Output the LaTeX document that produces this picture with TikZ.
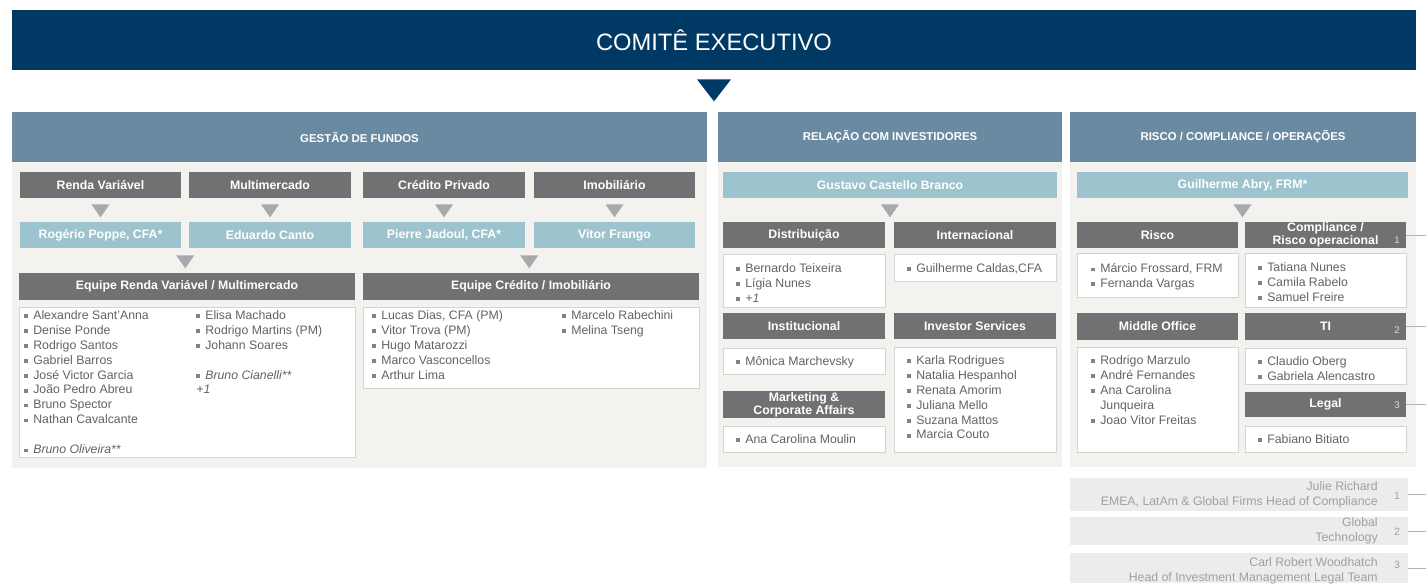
\documentclass[tikz,border=0pt]{standalone}
\usepackage{fontspec}
\setmainfont{Liberation Sans}
\usetikzlibrary{calc}

\definecolor{navy}{RGB}{0,57,99}
\definecolor{steel}{RGB}{106,138,162}
\definecolor{panel}{RGB}{243,242,238}
\definecolor{headgrey}{RGB}{112,113,115}
\definecolor{leadblue}{RGB}{157,195,206}
\definecolor{trigrey}{RGB}{167,169,172}
\definecolor{namegrey}{RGB}{98,99,102}
\definecolor{framegrey}{RGB}{212,212,212}
\definecolor{footgrey}{RGB}{236,236,234}
\definecolor{foottext}{RGB}{160,160,160}

% square bullet and the matching indent
\newcommand\bul{{\color{namegrey!80}\rule[0.8pt]{2pt}{2pt}}\hspace{3.1pt}}
\newcommand\nob{\hspace{5.1pt}}

\begin{document}
\begin{tikzpicture}[x=0.02cm,y=-0.02cm]
    \tikzset{
        sect/.style={fill=steel, text=white, font=\bfseries\fontsize{6.5}{8}\selectfont, inner sep=0pt, minimum height=1cm},
        head/.style={fill=headgrey, text=white, font=\bfseries\fontsize{7}{7.6}\selectfont, inner sep=0pt, minimum width=3.24cm, minimum height=0.52cm, align=center},
        lead/.style={fill=leadblue, text=white, font=\bfseries\fontsize{7}{8}\selectfont, inner sep=0pt, minimum width=3.24cm, minimum height=0.52cm},
        listbox/.style={draw=framegrey, fill=white, line width=0.5pt, inner sep=0pt, minimum width=3.24cm},
        namelist/.style={anchor=north west, inner sep=0pt, align=left, text=namegrey, font=\fontsize{7}{8.5}\selectfont},
        tri/.style={fill=trigrey},
        foot/.style={fill=footgrey, inner sep=0pt, minimum width=6.76cm},
        foottxt/.style={anchor=east, inner sep=0pt, align=right, text=foottext, font=\fontsize{7}{8.5}\selectfont},
        hnum/.style={inner sep=0pt, text=white!75!headgrey, font=\fontsize{5.5}{6}\selectfont},
        fnum/.style={inner sep=0pt, text=foottext, font=\fontsize{6}{7}\selectfont},
        link/.style={draw=framegrey!85!black, line width=0.5pt}
    }
    \useasboundingbox (0,0) rectangle (1426,583);
    \coordinate (rim) at (1426,0);

    \node[fill=navy, text=white, minimum width=28.08cm, minimum height=1.2cm, inner sep=0pt, font=\fontsize{13.5}{16}\selectfont] (ce) at (714,40) {COMITÊ EXECUTIVO};
    \fill[navy] ($(ce.south)+(-17,9)$) -- ++(34,0) -- ++(-17,22) -- cycle;

    \node[sect, minimum width=13.9cm] (gf) at (359.5,137) {GESTÃO DE FUNDOS};
    \node[sect, minimum width=6.88cm] (ri) at (890,137) {RELAÇÃO COM INVESTIDORES};
    \node[sect, minimum width=6.92cm] (rco) at (1243,137) {RISCO / COMPLIANCE / OPERAÇÕES};
    \fill[panel] (gf.south west) rectangle ++(695,306);
    \fill[panel] (ri.south west) rectangle ++(344,305);
    \fill[panel] (rco.south west) rectangle ++(346,305);

    % gestao de fundos
    \node[head] (rv) at (100.5,185) {Renda Variável};
    \node[head] (mm) at (270,185) {Multimercado};
    \node[head] (cp) at (444,185) {Crédito Privado};
    \node[head] (imob) at (614.5,185) {Imobiliário};
    \node[lead] (rvlead) at (100.5,235) {Rogério Poppe, CFA*};
    \node[lead] (mmlead) at (270,235) {Eduardo Canto};
    \node[lead] (cplead) at (444,235) {Pierre Jadoul, CFA*};
    \node[lead] (imoblead) at (614.5,235) {Vitor Frango};
    \node[head, minimum width=6.72cm, minimum height=0.54cm] (rvteam) at (187,286) {Equipe Renda Variável / Multimercado};
    \node[head, minimum width=6.72cm, minimum height=0.54cm] (cpteam) at (531,286) {Equipe Crédito / Imobiliário};
    \node[listbox, minimum width=6.72cm, minimum height=3cm] (rvlist) at (187,382) {};
    \node[listbox, minimum width=6.72cm, minimum height=1.62cm] (cplist) at (531,347.5) {};
    \node[namelist] (rvnamesa) at (24,310) {\bul Alexandre Sant'Anna\\ \bul Denise Ponde\\ \bul Rodrigo Santos\\ \bul Gabriel Barros\\ \bul José Victor Garcia\\ \bul João Pedro Abreu\\ \bul Bruno Spector\\ \bul Nathan Cavalcante\\[8.5pt] \bul\textit{Bruno Oliveira**}};
    \node[namelist] (rvnamesb) at (196,310) {\bul Elisa Machado\\ \bul Rodrigo Martins (PM)\\ \bul Johann Soares\\[8.5pt] \bul\textit{Bruno Cianelli**}\\ \textit{+1}};
    \node[namelist] (cpnamesa) at (372,310) {\bul Lucas Dias, CFA (PM)\\ \bul Vitor Trova (PM)\\ \bul Hugo Matarozzi\\ \bul Marco Vasconcellos\\ \bul Arthur Lima};
    \node[namelist] (cpnamesb) at (562,310) {\bul Marcelo Rabechini\\ \bul Melina Tseng};

    % relacao com investidores
    \node[lead, minimum width=6.68cm] (gcb) at (890,185) {Gustavo Castello Branco};
    \node[head] (dist) at (804,235) {Distribuição};
    \node[head] (intl) at (975,235) {Internacional};
    \node[listbox, minimum height=1.06cm] (distlist) at (804,280.5) {};
    \node[listbox, minimum height=0.54cm] (intllist) at (975,267.5) {};
    \node[head] (inst) at (804,326) {Institucional};
    \node[head] (invs) at (975,326) {Investor Services};
    \node[listbox, minimum height=0.52cm] (instlist) at (804,361) {};
    \node[listbox, minimum height=2.1cm] (invslist) at (975,399.5) {};
    \node[head, minimum height=0.54cm] (mkt) at (804,404.5) {Marketing \&\\Corporate Affairs};
    \node[listbox, minimum height=0.52cm] (mktlist) at (804,439) {};
    \node[namelist] (distnames) at (736,263) {\bul Bernardo Teixeira\\ \bul Lígia Nunes\\ \bul\textit{+1}};
    \node[namelist] (intlnames) at (907,263) {\bul Guilherme Caldas,CFA};
    \node[namelist] (instnames) at (736,356) {\bul Mônica Marchevsky};
    \node[namelist] (invsnames) at (907,355) {\bul Karla Rodrigues\\ \bul Natalia Hespanhol\\ \bul Renata Amorim\\ \bul Juliana Mello\\ \bul Suzana Mattos\\ \bul Marcia Couto};
    \node[namelist] (mktnames) at (736,434) {\bul Ana Carolina Moulin};

    % risco / compliance / operacoes
    \node[lead, minimum width=6.62cm] (ga) at (1242.5,185) {Guilherme Abry, FRM*};
    \node[head, minimum width=3.22cm] (risco) at (1157.5,235) {Risco};
    \node[head, minimum width=3.22cm] (comp) at (1325.5,235) {Compliance /\\Risco operacional};
    \node[listbox, minimum width=3.22cm, minimum height=0.88cm] (riscolist) at (1157.5,275) {};
    \node[listbox, minimum width=3.22cm, minimum height=1.08cm] (complist) at (1325.5,280) {};
    \node[head, minimum width=3.22cm, minimum height=0.54cm] (mo) at (1157.5,326.5) {Middle Office};
    \node[head, minimum width=3.22cm, minimum height=0.54cm] (ti) at (1325.5,326.5) {TI};
    \node[listbox, minimum width=3.22cm, minimum height=2.1cm] (molist) at (1157.5,399.5) {};
    \node[listbox, minimum width=3.22cm, minimum height=0.72cm] (tilist) at (1325.5,366) {};
    \node[head, minimum width=3.22cm, minimum height=0.5cm] (legal) at (1325.5,404.5) {Legal};
    \node[listbox, minimum width=3.22cm, minimum height=0.52cm] (legallist) at (1325.5,439) {};
    \node[namelist] (risconames) at (1091,263) {\bul Márcio Frossard, FRM\\ \bul Fernanda Vargas};
    \node[namelist] (compnames) at (1258,262) {\bul Tatiana Nunes\\ \bul Camila Rabelo\\ \bul Samuel Freire};
    \node[namelist] (monames) at (1091,355) {\bul Rodrigo Marzulo\\ \bul André Fernandes\\ \bul Ana Carolina\\ \nob Junqueira\\ \bul Joao Vitor Freitas};
    \node[namelist] (tinames) at (1258,356) {\bul Claudio Oberg\\ \bul Gabriela Alencastro};
    \node[namelist] (legalnames) at (1258,434) {\bul Fabiano Bitiato};
    \node[hnum] (compnum) at (1397,240) {1};
    \node[hnum] (tinum) at (1397,330) {2};
    \node[hnum] (legalnum) at (1397,405) {3};

    % global contacts
    \node[foot, minimum height=0.66cm] (jr) at (1239,494.5) {};
    \node[foot, minimum height=0.56cm] (gt) at (1239,531) {};
    \node[foot, minimum height=0.6cm] (crw) at (1239,568) {};
    \node[foottxt] (jrtxt) at (1378,494.5) {Julie Richard\\EMEA, LatAm \& Global Firms Head of Compliance};
    \node[foottxt] (gttxt) at (1378,530.5) {Global\\Technology};
    \node[foottxt] (crwtxt) at (1378,571) {Carl Robert Woodhatch\\Head of Investment Management Legal Team};
    \node[fnum] (jrnum) at (1397,496) {1};
    \node[fnum] (gtnum) at (1397,532) {2};
    \node[fnum] (crwnum) at (1397,565) {3};

    % markers
    \foreach \n in {rv,mm,cp,imob,gcb,ga}
        \fill[tri] ($(\n.south)+(-9,6)$) -- ++(18,0) -- ++(-9,13) -- cycle;
    \fill[tri] ($(rvlead.south east)!0.5!(mmlead.south west)+(-9,7)$) -- ++(18,0) -- ++(-9,13) -- cycle;
    \fill[tri] ($(cplead.south east)!0.5!(imoblead.south west)+(-9,7)$) -- ++(18,0) -- ++(-9,13) -- cycle;

    \foreach \n in {comp,ti,legal,jr,gt,crw}
        \draw[link] (\n.east) -- (\n.east -| rim);
\end{tikzpicture}
\end{document}
